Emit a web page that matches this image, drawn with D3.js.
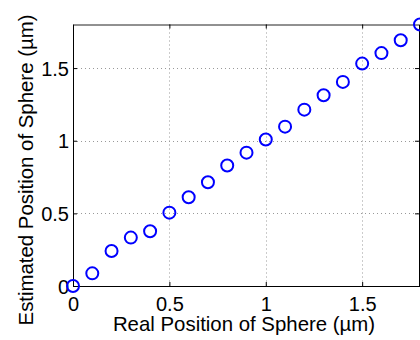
<!DOCTYPE html>
<html>
<head>
<meta charset="utf-8">
<script src="https://cdn.jsdelivr.net/npm/d3@7"></script>
<style>
  html, body { margin: 0; padding: 0; background: #fff; }
  svg { display: block; }
  text { font-family: "Liberation Sans", Arial, Helvetica, sans-serif; fill: #000; }
</style>
</head>
<body>
<svg id="chart" width="420" height="340"></svg>
<script>
// Real vs. estimated sphere positions (µm)
const realPos = [0, 0.1, 0.2, 0.3, 0.4, 0.5, 0.6, 0.7, 0.8, 0.9, 1.0, 1.1, 1.2, 1.3, 1.4, 1.5, 1.6, 1.7, 1.8];
const estPos  = [0, 0.087, 0.241, 0.333, 0.377, 0.505, 0.611, 0.714, 0.829, 0.918, 1.008, 1.097, 1.214, 1.313, 1.405, 1.531, 1.603, 1.692, 1.80];
const xTicks = [0, 0.5, 1, 1.5];
const yTicks = [0, 0.5, 1, 1.5];
const xTickLabels = ["0", "0.5", "1", "1.5"];
const yTickLabels = ["0", "0.5", "1", "1.5"];
const xLabel = "Real Position of Sphere (\u00B5m)";
const yLabel = "Estimated Position of Sphere (\u00B5m)";

const svg = d3.select("#chart");
const plotL = 73, plotR = 420, plotT = 24.5, plotB = 286;

const x = d3.scaleLinear().domain([0, 1.8]).range([plotL, plotR]);
const y = d3.scaleLinear().domain([0, 1.8]).range([plotB, plotT]);

// dotted grid
const grid = svg.append("g");
grid.selectAll("line.gx").data(xTicks.slice(1)).join("line")
  .attr("x1", d => Math.round(x(d)) + 0.5).attr("x2", d => Math.round(x(d)) + 0.5)
  .attr("y1", plotT).attr("y2", plotB)
  .attr("stroke", "#999").attr("stroke-width", 1).attr("stroke-dasharray", "1,3");
grid.selectAll("line.gy").data(yTicks.slice(1)).join("line")
  .attr("y1", d => Math.round(y(d)) + 0.5).attr("y2", d => Math.round(y(d)) + 0.5)
  .attr("x1", plotL).attr("x2", plotR)
  .attr("stroke", "#999").attr("stroke-width", 1).attr("stroke-dasharray", "1,3");

// axes (ticks point inward, as on a boxed plot)
const fmtX = (d, i) => xTickLabels[i];
const fmtY = (d, i) => yTickLabels[i];

const xAxis = svg.append("g").attr("transform", `translate(0,${plotB})`)
  .call(d3.axisBottom(x).tickValues(xTicks).tickFormat(fmtX).tickSizeInner(-4).tickSizeOuter(0).tickPadding(11));
const yAxis = svg.append("g").attr("transform", `translate(${plotL},0)`)
  .call(d3.axisLeft(y).tickValues(yTicks).tickFormat(fmtY).tickSizeInner(-4).tickSizeOuter(0).tickPadding(4));
const xTop = svg.append("g").attr("transform", `translate(0,${plotT})`)
  .call(d3.axisTop(x).tickValues(xTicks).tickFormat("").tickSizeInner(-4).tickSizeOuter(0));
const yRight = svg.append("g").attr("transform", `translate(${plotR - 1},0)`)
  .call(d3.axisRight(y).tickValues(yTicks).tickFormat("").tickSizeInner(-4).tickSizeOuter(0));

[xAxis, yAxis, xTop, yRight].forEach(g => {
  g.select(".domain").attr("stroke", "#000").attr("stroke-width", 1);
  g.selectAll(".tick line").attr("stroke", "#000");
  g.selectAll("text").attr("font-size", 20).attr("font-family", "Liberation Sans, Arial, sans-serif").attr("fill", "#000");
});
xTop.select(".domain").attr("stroke", "#222");
yAxis.selectAll("text").attr("dy", "0.36em");

// axis titles
svg.append("text")
  .attr("x", 244).attr("y", 331)
  .attr("text-anchor", "middle").attr("font-size", 20.4)
  .text(xLabel);
svg.append("text")
  .attr("transform", "translate(33,170) rotate(-90)")
  .attr("text-anchor", "middle").attr("font-size", 20.4)
  .text(yLabel);

// markers
svg.append("g").selectAll("circle").data(realPos).join("circle")
  .attr("cx", d => x(d))
  .attr("cy", (d, i) => y(estPos[i]))
  .attr("r", 6)
  .attr("fill", "none")
  .attr("stroke", "#0000ff")
  .attr("stroke-width", 2);
</script>
</body>
</html>
